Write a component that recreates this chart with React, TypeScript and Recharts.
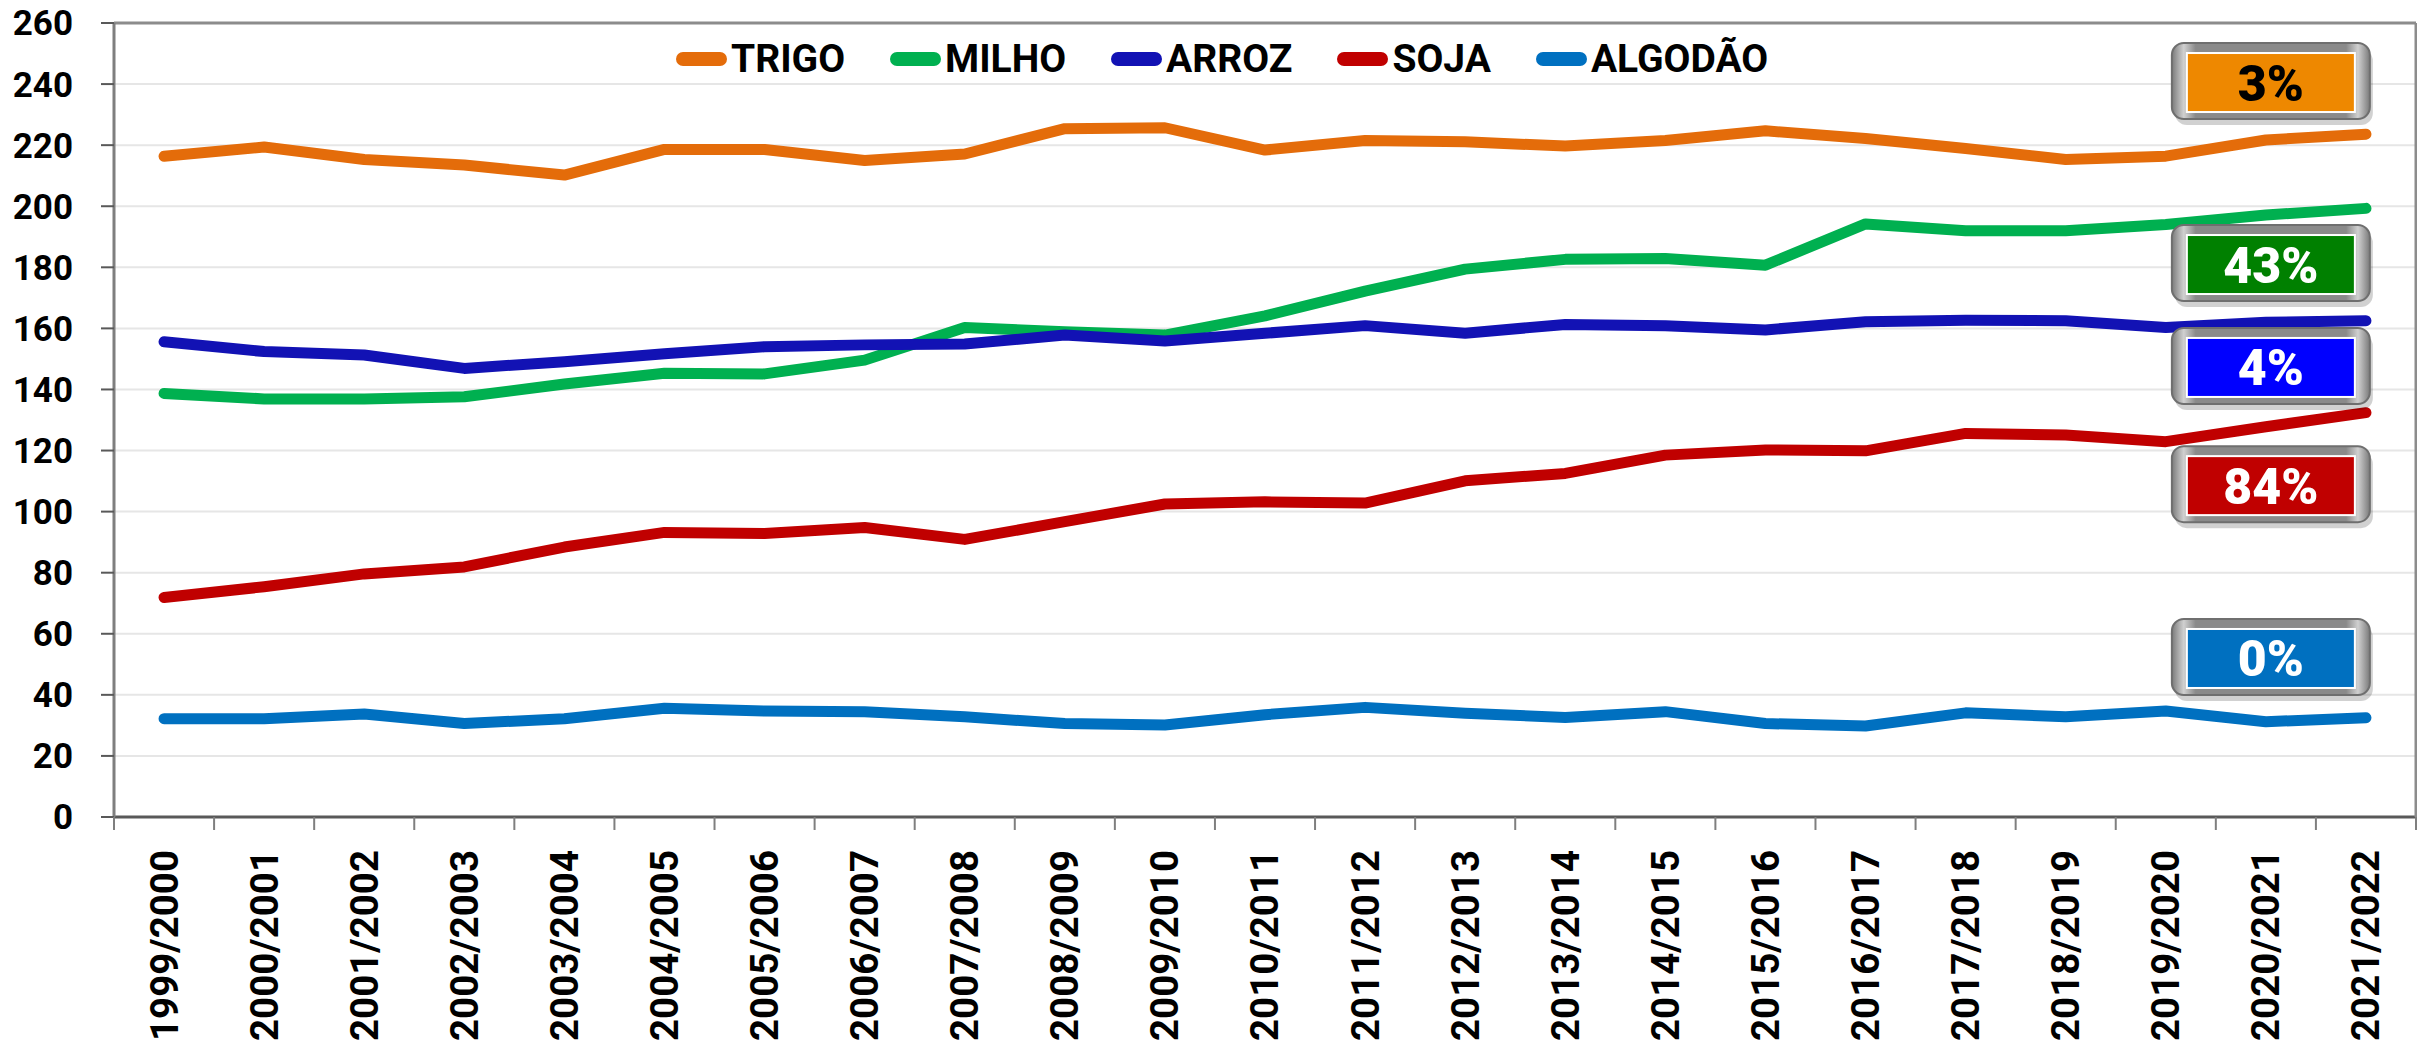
import React from "react";
import {
  LineChart,
  Line,
  XAxis,
  YAxis,
  CartesianGrid,
  ReferenceLine,
  ReferenceDot,
} from "recharts";

const SEASONS = [
  "1999/2000", "2000/2001", "2001/2002", "2002/2003", "2003/2004", "2004/2005",
  "2005/2006", "2006/2007", "2007/2008", "2008/2009", "2009/2010", "2010/2011",
  "2011/2012", "2012/2013", "2013/2014", "2014/2015", "2015/2016", "2016/2017",
  "2017/2018", "2018/2019", "2019/2020", "2020/2021", "2021/2022",
];

const TRIGO = [216.4, 219.4, 215.3, 213.5, 210.2, 218.6, 218.6, 215.0, 217.1, 225.4, 225.7, 218.4, 221.5, 221.1, 219.7, 221.5, 224.7, 222.2, 218.9, 215.3, 216.4, 221.7, 223.6];
const MILHO = [138.7, 136.9, 136.9, 137.6, 141.8, 145.3, 145.1, 149.6, 160.3, 158.9, 157.8, 164.1, 172.2, 179.4, 182.6, 182.9, 180.7, 194.2, 192.0, 192.0, 194.0, 197.1, 199.3];
const ARROZ = [155.6, 152.4, 151.3, 146.9, 149.1, 151.7, 154.0, 154.6, 154.9, 157.8, 155.9, 158.4, 160.9, 158.4, 161.3, 160.9, 159.5, 162.2, 162.7, 162.5, 160.3, 162.0, 162.5];
const SOJA = [71.9, 75.4, 79.6, 81.9, 88.4, 93.2, 92.8, 94.8, 90.9, 96.7, 102.5, 103.2, 102.8, 110.1, 112.5, 118.5, 120.2, 119.9, 125.6, 125.1, 122.9, 127.8, 132.4];
const ALGODAO = [32.2, 32.2, 33.7, 30.6, 32.2, 35.6, 34.7, 34.5, 32.8, 30.6, 30.1, 33.5, 35.9, 34.0, 32.6, 34.5, 30.6, 29.8, 34.1, 32.8, 34.7, 31.2, 32.5];

const Y_TICKS = [0, 20, 40, 60, 80, 100, 120, 140, 160, 180, 200, 220, 240, 260];

const SERIES = [
  { key: "trigo", name: "TRIGO", values: TRIGO, color: "#E46C0A" },
  { key: "milho", name: "MILHO", values: MILHO, color: "#00B050" },
  { key: "arroz", name: "ARROZ", values: ARROZ, color: "#1212B4" },
  { key: "soja", name: "SOJA", values: SOJA, color: "#C00000" },
  { key: "algodao", name: "ALGODÃO", values: ALGODAO, color: "#0070C0" },
];

// variação 1999/2000 -> 2021/2022, caixas ancoradas perto de 2020/2021
const BADGES = [
  { label: "3%", at: 241, fill: "#EE8800", text: "#000000" },
  { label: "43%", at: 181.4, fill: "#008000", text: "#ffffff" },
  { label: "4%", at: 147.7, fill: "#0000FF", text: "#ffffff" },
  { label: "84%", at: 109, fill: "#C00000", text: "#ffffff" },
  { label: "0%", at: 52.4, fill: "#0070C0", text: "#ffffff" },
];

const data = SEASONS.map((season, i) => {
  const row: Record<string, string | number> = { season };
  SERIES.forEach((s) => {
    row[s.key] = s.values[i];
  });
  return row;
});

const FONT = "Roboto, 'Liberation Sans', Arial, sans-serif";
const CHART_W = 2409;
const CHART_H = 1044;
const PLOT_H = 794;
const TOP = 23;
const Y_W = 106;
const RIGHT_W = 1;
const BAND = (CHART_W - Y_W - RIGHT_W) / SEASONS.length;
const X_TICK_MARGIN = 33;

function XTick(props: any) {
  const { x, y, payload, index } = props;
  const half = BAND / 2;
  const axisY = y - X_TICK_MARGIN;
  return (
    <g>
      <line x1={x - half} x2={x - half} y1={axisY} y2={axisY + 13} stroke="#7f7f7f" strokeWidth={2} />
      {index === SEASONS.length - 1 && (
        <line x1={x + half} x2={x + half} y1={axisY} y2={axisY + 13} stroke="#7f7f7f" strokeWidth={2} />
      )}
      <text
        x={x}
        y={y}
        dy="0.35em"
        textAnchor="end"
        transform={`rotate(-90, ${x}, ${y})`}
        fontFamily={FONT}
        fontWeight={700}
        fontSize={38.5}
        fill="#000"
      >
        {payload.value}
      </text>
    </g>
  );
}

function Badge(props: any) {
  const { cx, cy, label, fill, text, id } = props;
  const w = 198;
  const h = 76;
  const x = cx - w / 2 + 5;
  const y = cy - h / 2;
  return (
    <g>
      <defs>
        <linearGradient id={`bg-${id}`} x1="0" y1="0" x2="1" y2="0">
          <stop offset="0" stopColor="#7a7a7a" />
          <stop offset="0.06" stopColor="#d0d0d0" />
          <stop offset="0.12" stopColor="#8a8a8a" />
          <stop offset="0.88" stopColor="#8a8a8a" />
          <stop offset="0.94" stopColor="#d0d0d0" />
          <stop offset="1" stopColor="#7a7a7a" />
        </linearGradient>
      </defs>
      <rect x={x + 3} y={y + 6} width={w} height={h} rx={12} fill="#000" opacity={0.18} />
      <rect x={x} y={y} width={w} height={h} rx={12} fill={`url(#bg-${id})`} stroke="#6f6f6f" strokeWidth={2} />
      <rect x={x + 15} y={y + 10} width={w - 30} height={h - 17} fill={fill} stroke="#ffffff" strokeWidth={2} />
      <text
        x={x + w / 2}
        y={y + 10 + (h - 17) / 2}
        dy="0.36em"
        textAnchor="middle"
        fontFamily={FONT}
        fontWeight={900}
        fontSize={50}
        fill={text}
      >
        {label}
      </text>
    </g>
  );
}

function LegendRow() {
  return (
    <div
      style={{
        position: "absolute",
        left: 668,
        top: TOP + 16,
        height: 40,
        display: "flex",
        alignItems: "center",
        gap: 45,
        fontFamily: FONT,
        fontWeight: 700,
        fontSize: 39,
        color: "#000",
      }}
    >
      {SERIES.map((s) => (
        <div key={s.key} style={{ display: "flex", alignItems: "center" }}>
          <span
            style={{
              display: "inline-block",
              width: 51,
              height: 14,
              borderRadius: 7,
              background: s.color,
              marginRight: 4,
            }}
          />
          <span style={{ lineHeight: "40px" }}>{s.name}</span>
        </div>
      ))}
    </div>
  );
}

export default function App() {
  return (
    <div
      style={{
        position: "relative",
        width: CHART_W,
        height: CHART_H,
        marginTop: -8,
        background: "#fff",
      }}
    >
      <LineChart
        width={CHART_W}
        height={CHART_H}
        data={data}
        margin={{ top: TOP, right: 0, bottom: 0, left: 0 }}
      >
        <CartesianGrid vertical={false} stroke="#e6e6e6" strokeWidth={2} />
        <XAxis
          dataKey="season"
          interval={0}
          padding={{ left: BAND / 2, right: BAND / 2 }}
          height={CHART_H - TOP - PLOT_H}
          tickLine={false}
          tickSize={0}
          tickMargin={X_TICK_MARGIN}
          axisLine={{ stroke: "#595959", strokeWidth: 3 }}
          tick={<XTick />}
        />
        <YAxis
          width={Y_W}
          domain={[0, 260]}
          ticks={Y_TICKS}
          interval={0}
          tickSize={13}
          tickMargin={28}
          axisLine={{ stroke: "#7f7f7f", strokeWidth: 3 }}
          tickLine={{ stroke: "#595959", strokeWidth: 2 }}
          tick={{ fontSize: 35, fontWeight: 700, fill: "#000", fontFamily: FONT }}
        />
        <YAxis
          yAxisId="right"
          orientation="right"
          width={RIGHT_W}
          domain={[0, 260]}
          tick={false}
          tickLine={false}
          axisLine={{ stroke: "#8c8c8c", strokeWidth: 3 }}
        />
        <ReferenceLine y={260} stroke="#8c8c8c" strokeWidth={3} />
        {SERIES.map((s) => (
          <Line
            key={s.key}
            type="linear"
            dataKey={s.key}
            name={s.name}
            stroke={s.color}
            strokeWidth={11}
            strokeLinecap="round"
            strokeLinejoin="round"
            dot={false}
            activeDot={false}
            isAnimationActive={false}
          />
        ))}
        {BADGES.map((b, i) => (
          <ReferenceDot
            key={b.label}
            x={SEASONS[21]}
            y={b.at}
            r={0}
            shape={(p: any) => <Badge {...p} id={i} label={b.label} fill={b.fill} text={b.text} />}
          />
        ))}
      </LineChart>
      <LegendRow />
    </div>
  );
}
